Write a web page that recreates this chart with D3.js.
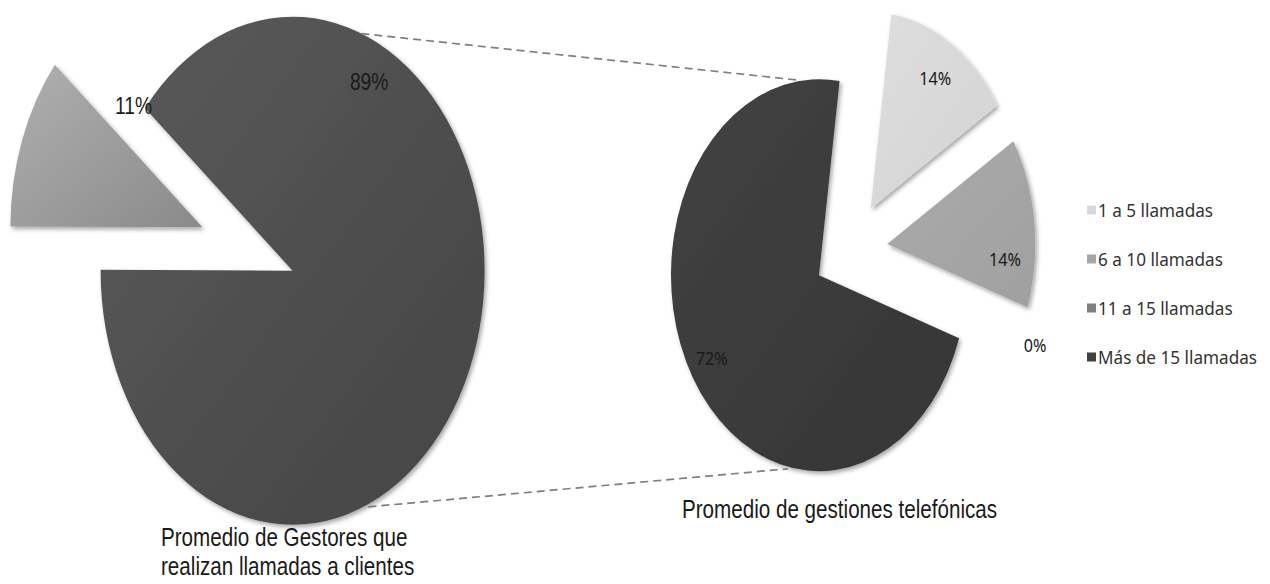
<!DOCTYPE html>
<html>
<head>
<meta charset="utf-8">
<script src="https://cdn.jsdelivr.net/npm/d3@7"></script>
<style>
  body { margin: 0; background: #fff; }
  svg { display: block; }
</style>
</head>
<body>
<div id="chart"></div>
<script>
// left pie: share of managers who call clients
const leftCategories = ["No realizan", "Realizan llamadas"];
const leftValues = [11, 89];
const leftLabels = ["11%", "89%"];

// right pie: average number of calls
const rightCategories = ["1 a 5 llamadas", "6 a 10 llamadas", "11 a 15 llamadas", "Más de 15 llamadas"];
const rightValues = [14, 14, 0, 72];
const rightLabels = ["14%", "14%", "0%", "72%"];

const leftTitle = ["Promedio de Gestores que", "realizan llamadas a clientes"];
const rightTitle = "Promedio de gestiones telefónicas";

const width = 1270, height = 584;
const explode = 0.25;
const deg = Math.PI / 180;

const svg = d3.select("#chart").append("svg")
  .attr("width", width)
  .attr("height", height);

const defs = svg.append("defs");

const shadow = defs.append("filter").attr("id", "shadow")
  .attr("x", "-10%").attr("y", "-10%").attr("width", "125%").attr("height", "125%");
shadow.append("feDropShadow")
  .attr("dx", 2).attr("dy", 2.5)
  .attr("stdDeviation", 2.2)
  .attr("flood-color", "#000")
  .attr("flood-opacity", 0.35);

function gradient(id, c1, c2) {
  const lg = defs.append("linearGradient").attr("id", id)
    .attr("x1", "0%").attr("y1", "0%").attr("x2", "100%").attr("y2", "100%");
  lg.append("stop").attr("offset", "0%").attr("stop-color", c1);
  lg.append("stop").attr("offset", "100%").attr("stop-color", c2);
  return `url(#${id})`;
}

const leftFill = [gradient("lg0", "#b0b0b0", "#8a8a8a"), gradient("lg1", "#5a5a5a", "#444444")];
const rightFill = [
  gradient("rg0", "#dedede", "#d3d3d3"),
  gradient("rg1", "#ababab", "#a0a0a0"),
  gradient("rg2", "#808080", "#777777"),
  gradient("rg3", "#424242", "#353535")
];
const legendColor = ["#d9d9d9", "#a6a6a6", "#7f7f7f", "#404040"];

// pie layouts (angles clockwise from 12 o'clock)
const leftPie = { cx: 247.5, cy: 249, rx: 192, ry: 254, start: 270.2 };
const rightPie = { cx: 850.5, cy: 249.5, rx: 148, ry: 196, start: 8 };

// where each data label sits: angle (deg) and radius as a fraction of the pie
const leftLabelPos = [{ a: 313.6, r: 0.82 }, { a: 43.8, r: 0.915 }];
const rightLabelPos = [{ a: 33.2, r: 1.045 }, { a: 92.6, r: 1.045 }, { a: 111.4, r: 1.34 }, { a: 239.3, r: 1.09 }];

// narrow fonts are faked with a horizontal squeeze
const narrowFont = { family: "'Liberation Sans', Arial, sans-serif", sx: 0.8 };
const titleFont = { family: "'Liberation Sans', Arial, sans-serif", sx: 0.825 };
const calibriFont = { family: "'Noto Sans', sans-serif", sx: 0.9 };
const legendFont = { family: "'Noto Sans', sans-serif", sx: 0.98 };

const R = 100;
const arc = d3.arc().innerRadius(0).outerRadius(R);

function ellipsePoint(p, angle, r, off) {
  const o = off || [0, 0];
  return [p.cx + o[0] + p.rx * r * Math.sin(angle), p.cy + o[1] - p.ry * r * Math.cos(angle)];
}

function explodeOffset(p, mid) {
  return [p.rx * explode * Math.sin(mid), -p.ry * explode * Math.cos(mid)];
}

function squeezedText(parent, x, y, txt, font, size, anchor) {
  const g = parent.append("g").attr("transform", `translate(${x},${y}) scale(${font.sx},1)`);
  return g.append("text")
    .attr("text-anchor", anchor || "start")
    .style("font-family", font.family)
    .style("font-size", size)
    .attr("fill", "#1a1a1a")
    .text(txt);
}

function drawPie(p, values, fills, labels, labelPos, font, size) {
  const arcs = d3.pie().sort(null)
    .startAngle(p.start * deg)
    .endAngle(p.start * deg + 2 * Math.PI)(values);

  const g = svg.append("g");
  g.selectAll("g.slice")
    .data(arcs.filter((d) => d.value > 0))
    .enter()
    .append("g")
    .attr("class", "slice")
    .attr("filter", "url(#shadow)")
    .attr("transform", (d) => {
      const [x, y] = explodeOffset(p, (d.startAngle + d.endAngle) / 2);
      return `translate(${p.cx + x},${p.cy + y})`;
    })
    .append("path")
    .attr("transform", `scale(${p.rx / R},${p.ry / R})`)
    .attr("d", arc)
    .attr("fill", (d) => fills[d.index]);

  arcs.forEach((d, i) => {
    const [x, y] = ellipsePoint(p, labelPos[i].a * deg, labelPos[i].r);
    squeezedText(g, x, y, labels[i], font, size, "middle")
      .attr("dominant-baseline", "central");
  });

  return arcs;
}

const leftArcs = drawPie(leftPie, leftValues, leftFill, leftLabels, leftLabelPos, narrowFont, "24px");
const rightArcs = drawPie(rightPie, rightValues, rightFill, rightLabels, rightLabelPos, calibriFont, "18px");

// connector lines run from the big slice of the left pie to the big slice of the right pie
const lBig = leftArcs[1], rBig = rightArcs[3];
const lOff = explodeOffset(leftPie, (lBig.startAngle + lBig.endAngle) / 2);
const rOff = explodeOffset(rightPie, (rBig.startAngle + rBig.endAngle) / 2);
const connectors = [
  [ellipsePoint(leftPie, 21 * deg, 1, lOff), ellipsePoint(rightPie, -8 * deg, 1.005, rOff)],
  [ellipsePoint(leftPie, 157 * deg, 1.01, lOff), ellipsePoint(rightPie, 192 * deg, 1.01, rOff)]
];
svg.append("g").selectAll("line")
  .data(connectors)
  .enter()
  .append("line")
  .attr("x1", (d) => d[0][0])
  .attr("y1", (d) => d[0][1])
  .attr("x2", (d) => d[1][0])
  .attr("y2", (d) => d[1][1])
  .attr("stroke", "#7f7f7f")
  .attr("stroke-width", 1.7)
  .attr("stroke-dasharray", "8,5");

// titles
leftTitle.forEach((t, i) => squeezedText(svg, 161, 546 + i * 29, t, titleFont, "25px"));
squeezedText(svg, 682, 518, rightTitle, titleFont, "25px");

// legend
const legend = svg.append("g").attr("transform", "translate(1087,210)");
rightCategories.forEach((c, i) => {
  const row = legend.append("g").attr("transform", `translate(0,${i * 49})`);
  row.append("rect")
    .attr("x", 0).attr("y", -4.5)
    .attr("width", 9).attr("height", 9)
    .attr("fill", legendColor[i]);
  squeezedText(row, 11, 0, c, legendFont, "17.5px")
    .attr("dominant-baseline", "central")
    .attr("fill", "#333");
});
</script>
</body>
</html>
